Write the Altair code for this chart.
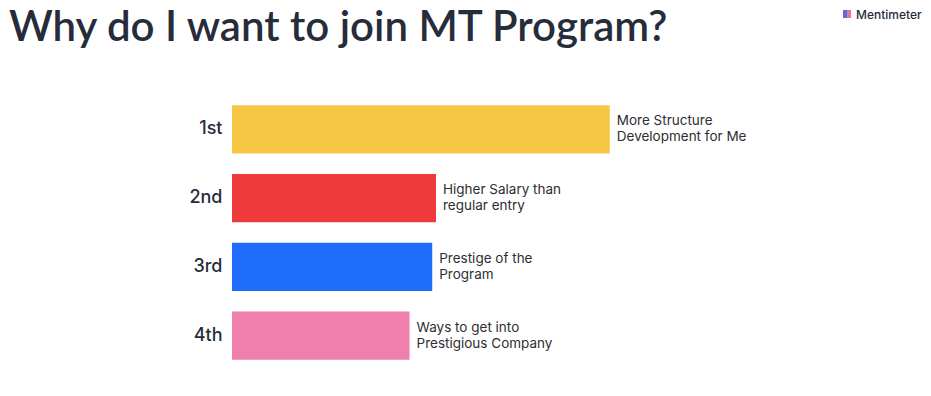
import altair as alt
import pandas as pd

ranks = ["1st", "2nd", "3rd", "4th"]
labels = [
    "More Structure\nDevelopment for Me",
    "Higher Salary than\nregular entry",
    "Prestige of the\nProgram",
    "Ways to get into\nPrestigious Company",
]
scores = [100, 54, 53, 47]
colors = ["#F6C744", "#EE3A3A", "#1F6BFA", "#EF7FAC"]
title_text = "Why do I want to join MT Program?"
brand_text = "Mentimeter"
icon_colors = ["#5769E7", "#EF6F9C"]

df = pd.DataFrame({"rank": ranks, "label": labels, "score": scores, "color": colors})

FONT = "Inter"
TEXT = "#272C3A"

y = alt.Y(
    "rank:N",
    sort=ranks,
    title=None,
    scale=alt.Scale(paddingInner=0.3, paddingOuter=0.15),
    axis=alt.Axis(
        domain=False, ticks=False, grid=False, labelPadding=10, labelFontSize=18,
        labelFont=FONT, labelFontWeight=500, labelColor=TEXT,
    ),
)
x = alt.X("score:Q", title=None, scale=alt.Scale(domain=[0, 180]), axis=None)

bars = alt.Chart(df).mark_bar(cornerRadius=0).encode(
    x=x, y=y, color=alt.Color("color:N", scale=None)
)

text = alt.Chart(df).mark_text(
    align="left", baseline="middle", dx=7, dy=-8, lineBreak="\n", lineHeight=16,
    fontSize=13.5, font=FONT, color="#2E2E33",
).encode(x=x, y=y, text="label:N")

title = alt.Chart(pd.DataFrame({"t": [title_text]})).mark_text(
    align="left", baseline="alphabetic", fontSize=42, font="Lato", fontWeight=600,
    color=TEXT,
).encode(x=alt.value(-223), y=alt.value(-54), text="t:N")

logo = alt.Chart(pd.DataFrame({"t": [brand_text]})).mark_text(
    align="left", baseline="middle", fontSize=12, font=FONT, fontWeight=500,
    color=TEXT,
).encode(x=alt.value(624), y=alt.value(-80), text="t:N")

icon_df = pd.DataFrame({"c": icon_colors, "x0": [611, 615], "x1": [615, 619]})
logo_icon = alt.Chart(icon_df).mark_rect().encode(
    x=alt.X("x0:Q", scale=None), x2="x1:Q",
    y=alt.value(-85), y2=alt.value(-77),
    color=alt.Color("c:N", scale=None),
)

chart = (bars + text + title + logo + logo_icon).properties(
    width=680,
    height=275,
    autosize=alt.AutoSizeParams(type="none"),
    padding={"left": 224, "top": 87, "right": 11, "bottom": 0},
).configure(background="white").configure_view(stroke=None)

chart.save("out.html", embed_options={"renderer": "svg", "actions": False})
